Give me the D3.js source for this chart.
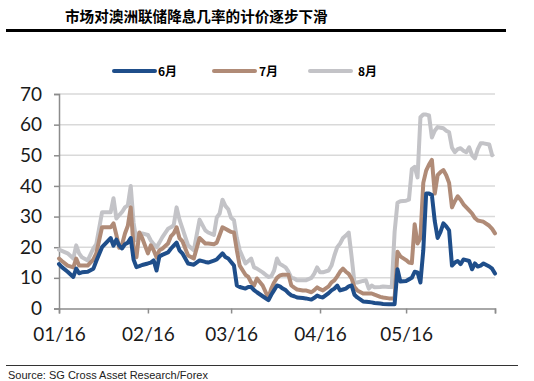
<!DOCTYPE html>
<html><head><meta charset="utf-8">
<script src="https://cdn.jsdelivr.net/npm/d3@7"></script>
<style>html,body{margin:0;padding:0;background:#fff;}svg{display:block;}</style>
</head><body>
<script>
const title = "市场对澳洲联储降息几率的计价逐步下滑";
const source = "Source: SG Cross Asset Research/Forex";
const seriesNames = ["6月", "7月", "8月"];
const yTicks = [0, 10, 20, 30, 40, 50, 60, 70];
const xTickDates = ["2016-01-01","2016-02-01","2016-03-01","2016-04-01","2016-05-01","2016-06-01"];
const xTickLabels = ["01/16","02/16","03/16","04/16","05/16",""];

const dates = ["01-01","01-02","01-04","01-06","01-07","01-08","01-09","01-11","01-13","01-14","01-16","01-18","01-19","01-20","01-21","01-22","01-23","01-24","01-25","01-26","01-27","01-28","01-29","01-30",
"02-01","02-02","02-03","02-04","02-05","02-06","02-08","02-09","02-10","02-11","02-12","02-13","02-15","02-17","02-19","02-21","02-22","02-24","02-25","02-26","02-27","02-28","02-29",
"03-01","03-02","03-03","03-04","03-06","03-07","03-08","03-09","03-10","03-12","03-14","03-15","03-16","03-17","03-18","03-19","03-20","03-21","03-22","03-23","03-24","03-26","03-27","03-29","03-30","03-31",
"04-01","04-02","04-04","04-05","04-06","04-07","04-08","04-09","04-10","04-11","04-12","04-13","04-14","04-16","04-17","04-18","04-19","04-20","04-22","04-23","04-25","04-26","04-27","04-28","04-29",
"05-01","05-02","05-03","05-04","05-05","05-06","05-07","05-08","05-09","05-10","05-11","05-12","05-13","05-14","05-15","05-16","05-17","05-18","05-19","05-20","05-21","05-22","05-23","05-24","05-25","05-26","05-27","05-28","05-30","05-31","06-01"];

const jun = [14.5,13.5,12,10.3,13,11.5,11.8,12,13,15.5,20,22,23,20.5,22.5,20.5,19.6,21,21.5,23,16,13.5,13.8,14.2,
14.7,15,15.7,12.4,17,17.5,18.3,19.5,20.5,21.5,19,18,14.7,14.3,15.7,15.2,15,15.6,16,17,18,16.8,16.3,
15.2,14,7.5,7,6.5,7,7,6,5.3,4,2.7,4.5,6,7.5,7.2,6.5,6,5,4.3,4,3.6,3.4,3.3,2.9,3.5,4.2,
3.8,3.6,5,5.9,6.5,7.5,5.9,6.2,6.5,7.2,7.5,4.5,3.6,2.3,2.2,2.1,2,1.8,1.6,1.5,1.4,1.4,1.4,12.8,8.8,
9,9.5,10,12,11.8,8.5,19,37.5,37.5,37,28.5,23,25,27.8,26.8,25.5,14,15,15.5,14.5,16,15.8,15.5,12.8,14.7,13.7,14,14.7,13.7,13,11.4];

const jul = [16.3,15.5,14,13.4,16.3,14,14,14,16,18,26.5,26.5,26.5,27.8,24,19.8,21,24.5,27,33,20,16.7,24.8,23,
18,20.6,19,16.7,19,19.5,21.2,23.5,24.5,26.5,23,22,17.3,16.3,23,21.2,21.2,21,21.5,24,26.5,26,25.5,
25,24.8,19,14,11,10.3,8.5,7.5,9.8,7.5,3.4,6.5,8.5,10,10.8,11,11,11,7.5,6.8,6.2,5.9,5.9,5.3,6,6.9,
6.3,5.9,7.2,8.5,9.2,10.5,12,13,12,11.3,9.8,7,5.9,4.9,4.9,4.9,4.9,4.5,3.8,3.6,3.3,3.3,3.3,18.5,17,
15.8,15,14.8,27.5,21.2,23,41,45,47,48.5,37.5,43.5,44.5,45.2,43.5,41,33,35,36.6,35.5,34,33,32,31,29.5,28.7,28.5,28.3,27,26,24.5];

const aug = [19.2,18.8,18,16.3,20.6,18,16.7,15.7,19.6,21,31.4,31.4,31.4,36,29.4,30.5,31.5,33,33.7,40,28,22.2,24.5,24.5,
24,22.2,21,20,21.5,23.2,26,26.5,27.2,33,29,26.2,20.6,19,29,25.5,24.8,24,29.7,31,35.5,33.5,32.4,
29.6,28.8,23,19,14.7,15.5,16.3,13.4,13,11.8,10.3,10.5,12.4,16.3,14.5,14,13.4,12,10,9.8,9.2,9.2,9.2,10,11.4,
13.4,11.8,11.8,12.4,14,17.3,20,21.2,23,23.8,24.8,17,8.5,8.5,9,9.2,6.5,7.5,6.9,7,7.2,7,7,25,34.5,
35,35.2,35.5,45.5,46.2,42.8,62.4,63.3,63.3,63,55.8,58,59.2,59,58.8,58,57.5,52.5,51,52,52.3,51.5,51,52.6,50,49,52,53.9,53.9,53.5,50];

const colors = ["#1f4e8a", "#b08b77", "#c3c3c7"];

const W = 534, H = 381;
const svg = d3.select("body").append("svg").attr("width", W).attr("height", H);

const parse = d3.timeParse("%Y-%m-%d");
const x = d3.scaleTime().domain([parse("2016-01-01"), parse("2016-06-01")]).range([59, 495]);
const y = d3.scaleLinear().domain([0, 70]).range([308.5, 94]);

// title
svg.append("text").attr("x", 65).attr("y", 22)
  .attr("font-family", "'Noto Sans CJK SC', sans-serif").attr("font-weight", "bold")
  .attr("font-size", 14.6).attr("fill", "#000").text(title);
svg.append("line").attr("x1", 6).attr("x2", 506).attr("y1", 30.5).attr("y2", 30.5)
  .attr("stroke", "#000").attr("stroke-width", 3);

// gridlines
svg.append("g").selectAll("line").data(yTicks.filter(d => d > 0)).join("line")
  .attr("x1", 59).attr("x2", 495).attr("y1", d => y(d)).attr("y2", d => y(d))
  .attr("stroke", "#d9d9d9").attr("stroke-width", 1.5);

// y axis
const yAxis = d3.axisLeft(y).tickValues(yTicks).tickSize(5).tickPadding(12).tickFormat(d3.format("d"));
const gy = svg.append("g").attr("transform", "translate(59,0)").call(yAxis);
gy.select(".domain").attr("stroke", "#8c8c8c").attr("stroke-width", 1.5);
gy.selectAll(".tick line").attr("stroke", "#8c8c8c").attr("stroke-width", 1.5);
gy.selectAll(".tick text").attr("font-family", "Lato, sans-serif").attr("font-size", 19).attr("fill", "#1a1a1a");

// x axis
const xAxis = d3.axisBottom(x).tickValues(xTickDates.map(parse)).tickSize(5).tickPadding(14)
  .tickFormat((d, i) => xTickLabels[i]);
const gx = svg.append("g").attr("transform", "translate(0,308.5)").call(xAxis);
gx.select(".domain").attr("stroke", "#8c8c8c").attr("stroke-width", 1.5);
gx.selectAll(".tick line").attr("stroke", "#8c8c8c").attr("stroke-width", 1.5);
gx.selectAll(".tick text").attr("font-family", "Lato, sans-serif").attr("font-size", 19).attr("fill", "#1a1a1a");

// lines
const data = [jun, jul, aug];
const line = d3.line().x((d, i) => x(parse("2016-" + dates[i]))).y(d => y(d));
[2, 1, 0].forEach(k => {
  svg.append("path").datum(data[k]).attr("d", line)
    .attr("fill", "none").attr("stroke", colors[k]).attr("stroke-width", 4)
    .attr("stroke-linejoin", "round").attr("stroke-linecap", "round");
});

// legend
const legX = [114, 214, 310];
const legTX = [158, 259, 358];
seriesNames.forEach((n, i) => {
  svg.append("line").attr("x1", legX[i]).attr("x2", legX[i] + 41).attr("y1", 71).attr("y2", 71)
    .attr("stroke", colors[i]).attr("stroke-width", 4).attr("stroke-linecap", "round");
  svg.append("text").attr("x", legTX[i]).attr("y", 76)
    .attr("font-family", "'Noto Sans CJK SC', sans-serif").attr("font-weight", "bold")
    .attr("font-size", 12).attr("fill", "#000").text(n);
});

// bottom rule and source
svg.append("line").attr("x1", 6).attr("x2", 518).attr("y1", 365.5).attr("y2", 365.5)
  .attr("stroke", "#333").attr("stroke-width", 1);
svg.append("text").attr("x", 8).attr("y", 379)
  .attr("font-family", "'Liberation Sans', Arial, sans-serif").attr("font-size", 11)
  .attr("fill", "#222").text(source);
</script>
</body></html>
